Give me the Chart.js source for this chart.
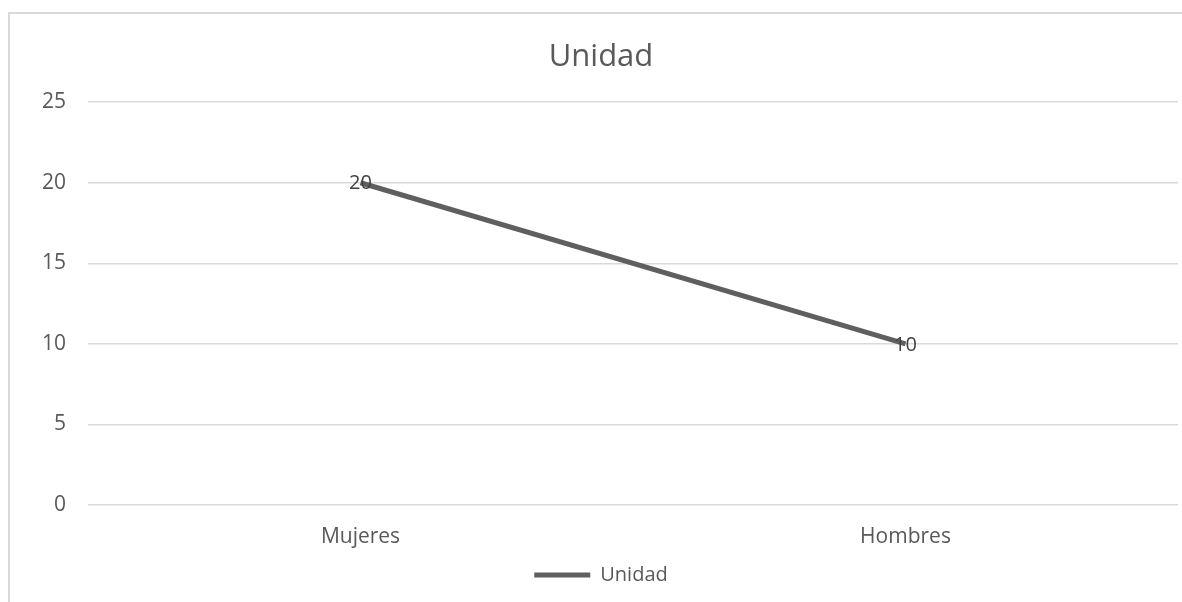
<!DOCTYPE html>
<html>
<head>
<meta charset="utf-8">
<script src="https://cdn.jsdelivr.net/npm/chart.js@4/dist/chart.umd.min.js"></script>
<style>
  body { margin: 0; background: #fff; }
  #frame { position: absolute; left: 8px; top: 12px; width: 1190px; height: 600px; border: 2px solid #d9d9d9; }
  #wrap { position: absolute; left: 0; top: 0; width: 1182px; height: 602px; }
</style>
</head>
<body>
<div id="frame"></div>
<div id="wrap"><canvas id="grafica"></canvas></div>
<script>
const categorias = ["Mujeres", "Hombres"];
const unidad = [20, 10];
const ticksY = [0, 5, 10, 15, 20, 25];

const etiquetas = {
    id: 'etiquetas',
    afterDatasetsDraw(chart) {
        const ctx = chart.ctx;
        const meta = chart.getDatasetMeta(0);
        ctx.save();
        ctx.font = '20px "Open Sans", sans-serif';
        ctx.fillStyle = '#404040';
        ctx.textAlign = 'center';
        ctx.textBaseline = 'middle';
        meta.data.forEach(function (pt, i) {
            ctx.fillText(String(unidad[i]), pt.x, pt.y + 1);
        });
        ctx.restore();
    }
};

const $grafica = document.querySelector("#grafica");
new Chart($grafica, {
    type: 'line',
    data: {
        labels: categorias,
        datasets: [{
            label: 'Unidad',
            data: unidad,
            borderColor: '#5f5f5f',
            backgroundColor: '#5f5f5f',
            borderWidth: 5,
            fill: false,
            tension: 0,
            pointRadius: 0
        }]
    },
    options: {
        responsive: true,
        maintainAspectRatio: false,
        animation: false,
        layout: { padding: { left: 24, right: 4, top: 0, bottom: 7 } },
        plugins: {
            title: {
                display: true,
                text: 'Unidad',
                color: '#595959',
                font: { family: '"Open Sans", sans-serif', size: 31, weight: 'normal' },
                padding: { top: 39, bottom: 26 }
            },
            legend: {
                position: 'bottom',
                labels: {
                    color: '#595959',
                    font: { family: '"Open Sans", sans-serif', size: 20 },
                    boxWidth: 56,
                    boxHeight: 5,
                    useBorderRadius: true,
                    borderRadius: 2.5,
                    generateLabels: function (chart) {
                        return [{
                            text: 'Unidad',
                            fillStyle: '#5f5f5f',
                            strokeStyle: '#5f5f5f',
                            lineWidth: 0,
                            datasetIndex: 0,
                            fontColor: '#595959'
                        }];
                    }
                }
            },
            tooltip: { enabled: false }
        },
        scales: {
            x: {
                offset: true,
                grid: { display: false, drawTicks: false },
                border: { display: false },
                ticks: {
                    color: '#595959',
                    padding: 19,
                    font: { family: '"Open Sans", sans-serif', size: 21 }
                },
                afterFit: function (scale) { scale.height = 50; }
            },
            y: {
                min: 0,
                max: 25,
                afterBuildTicks: function (scale) {
                    scale.ticks = ticksY.map(function (v) { return { value: v }; });
                },
                grid: { color: '#d9d9d9', lineWidth: 1.5, drawTicks: false },
                border: { display: false },
                ticks: {
                    color: '#595959',
                    padding: 22,
                    font: { family: '"Open Sans", sans-serif', size: 21 }
                },
                afterFit: function (scale) { scale.width = 64; }
            }
        }
    },
    plugins: [etiquetas]
});
</script>
</body>
</html>
